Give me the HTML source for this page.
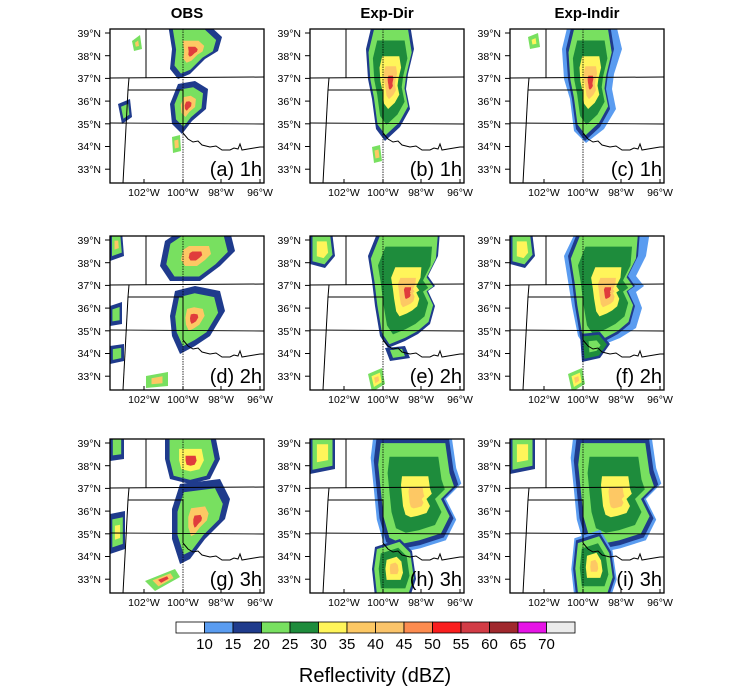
<!DOCTYPE html>
<html><head><meta charset="utf-8"><style>
body{margin:0;background:#fff}
svg{display:block;font-family:"Liberation Sans",sans-serif}
.lt{font-size:10.5px;text-anchor:end}
.ln{font-size:10.5px;text-anchor:middle}
.pl{font-size:20px;text-anchor:end}
.tt{font-size:15px;font-weight:bold;text-anchor:middle}
</style></head><body>
<svg id="s" width="750" height="695" viewBox="0 0 750 695">
<text class="tt" x="187" y="18">OBS</text>
<text class="tt" x="387" y="18">Exp-Dir</text>
<text class="tt" x="587" y="18">Exp-Indir</text>

<g transform="translate(110,29)"><g id="pa"></g><g class="fr"></g>
<text class="lt" x="-9" y="8">39°N</text><text class="lt" x="-9" y="31">38°N</text><text class="lt" x="-9" y="53">37°N</text><text class="lt" x="-9" y="76">36°N</text><text class="lt" x="-9" y="99">35°N</text><text class="lt" x="-9" y="121">34°N</text><text class="lt" x="-9" y="144">33°N</text>
<text class="ln" x="34" y="167">102°W</text><text class="ln" x="73" y="167">100°W</text><text class="ln" x="111" y="167">98°W</text><text class="ln" x="150" y="167">96°W</text>
<text class="pl" x="152" y="147">(a) 1h</text></g>

<g transform="translate(310,29)"><g id="pb"></g><g class="fr"></g>
<text class="lt" x="-9" y="8">39°N</text><text class="lt" x="-9" y="31">38°N</text><text class="lt" x="-9" y="53">37°N</text><text class="lt" x="-9" y="76">36°N</text><text class="lt" x="-9" y="99">35°N</text><text class="lt" x="-9" y="121">34°N</text><text class="lt" x="-9" y="144">33°N</text>
<text class="ln" x="34" y="167">102°W</text><text class="ln" x="73" y="167">100°W</text><text class="ln" x="111" y="167">98°W</text><text class="ln" x="150" y="167">96°W</text>
<text class="pl" x="152" y="147">(b) 1h</text></g>

<g transform="translate(510,29)"><g id="pc"></g><g class="fr"></g>
<text class="lt" x="-9" y="8">39°N</text><text class="lt" x="-9" y="31">38°N</text><text class="lt" x="-9" y="53">37°N</text><text class="lt" x="-9" y="76">36°N</text><text class="lt" x="-9" y="99">35°N</text><text class="lt" x="-9" y="121">34°N</text><text class="lt" x="-9" y="144">33°N</text>
<text class="ln" x="34" y="167">102°W</text><text class="ln" x="73" y="167">100°W</text><text class="ln" x="111" y="167">98°W</text><text class="ln" x="150" y="167">96°W</text>
<text class="pl" x="152" y="147">(c) 1h</text></g>

<g transform="translate(110,236)"><g id="pd"></g><g class="fr"></g>
<text class="lt" x="-9" y="8">39°N</text><text class="lt" x="-9" y="31">38°N</text><text class="lt" x="-9" y="53">37°N</text><text class="lt" x="-9" y="76">36°N</text><text class="lt" x="-9" y="99">35°N</text><text class="lt" x="-9" y="121">34°N</text><text class="lt" x="-9" y="144">33°N</text>
<text class="ln" x="34" y="167">102°W</text><text class="ln" x="73" y="167">100°W</text><text class="ln" x="111" y="167">98°W</text><text class="ln" x="150" y="167">96°W</text>
<text class="pl" x="152" y="147">(d) 2h</text></g>

<g transform="translate(310,236)"><g id="pe"></g><g class="fr"></g>
<text class="lt" x="-9" y="8">39°N</text><text class="lt" x="-9" y="31">38°N</text><text class="lt" x="-9" y="53">37°N</text><text class="lt" x="-9" y="76">36°N</text><text class="lt" x="-9" y="99">35°N</text><text class="lt" x="-9" y="121">34°N</text><text class="lt" x="-9" y="144">33°N</text>
<text class="ln" x="34" y="167">102°W</text><text class="ln" x="73" y="167">100°W</text><text class="ln" x="111" y="167">98°W</text><text class="ln" x="150" y="167">96°W</text>
<text class="pl" x="152" y="147">(e) 2h</text></g>

<g transform="translate(510,236)"><g id="pf"></g><g class="fr"></g>
<text class="lt" x="-9" y="8">39°N</text><text class="lt" x="-9" y="31">38°N</text><text class="lt" x="-9" y="53">37°N</text><text class="lt" x="-9" y="76">36°N</text><text class="lt" x="-9" y="99">35°N</text><text class="lt" x="-9" y="121">34°N</text><text class="lt" x="-9" y="144">33°N</text>
<text class="ln" x="34" y="167">102°W</text><text class="ln" x="73" y="167">100°W</text><text class="ln" x="111" y="167">98°W</text><text class="ln" x="150" y="167">96°W</text>
<text class="pl" x="152" y="147">(f) 2h</text></g>

<g transform="translate(110,439)"><g id="pg"></g><g class="fr"></g>
<text class="lt" x="-9" y="8">39°N</text><text class="lt" x="-9" y="31">38°N</text><text class="lt" x="-9" y="53">37°N</text><text class="lt" x="-9" y="76">36°N</text><text class="lt" x="-9" y="99">35°N</text><text class="lt" x="-9" y="121">34°N</text><text class="lt" x="-9" y="144">33°N</text>
<text class="ln" x="34" y="167">102°W</text><text class="ln" x="73" y="167">100°W</text><text class="ln" x="111" y="167">98°W</text><text class="ln" x="150" y="167">96°W</text>
<text class="pl" x="152" y="147">(g) 3h</text></g>

<g transform="translate(310,439)"><g id="ph"></g><g class="fr"></g>
<text class="lt" x="-9" y="8">39°N</text><text class="lt" x="-9" y="31">38°N</text><text class="lt" x="-9" y="53">37°N</text><text class="lt" x="-9" y="76">36°N</text><text class="lt" x="-9" y="99">35°N</text><text class="lt" x="-9" y="121">34°N</text><text class="lt" x="-9" y="144">33°N</text>
<text class="ln" x="34" y="167">102°W</text><text class="ln" x="73" y="167">100°W</text><text class="ln" x="111" y="167">98°W</text><text class="ln" x="150" y="167">96°W</text>
<text class="pl" x="152" y="147">(h) 3h</text></g>

<g transform="translate(510,439)"><g id="pi"></g><g class="fr"></g>
<text class="lt" x="-9" y="8">39°N</text><text class="lt" x="-9" y="31">38°N</text><text class="lt" x="-9" y="53">37°N</text><text class="lt" x="-9" y="76">36°N</text><text class="lt" x="-9" y="99">35°N</text><text class="lt" x="-9" y="121">34°N</text><text class="lt" x="-9" y="144">33°N</text>
<text class="ln" x="34" y="167">102°W</text><text class="ln" x="73" y="167">100°W</text><text class="ln" x="111" y="167">98°W</text><text class="ln" x="150" y="167">96°W</text>
<text class="pl" x="152" y="147">(i) 3h</text></g>

<g id="cb"></g>
<g style="font-size:15px" text-anchor="middle">
<text x="204.5" y="649">10</text><text x="233" y="649">15</text><text x="261.5" y="649">20</text><text x="290" y="649">25</text><text x="318.5" y="649">30</text><text x="347" y="649">35</text><text x="375.5" y="649">40</text><text x="404" y="649">45</text><text x="432.5" y="649">50</text><text x="461" y="649">55</text><text x="489.5" y="649">60</text><text x="518" y="649">65</text><text x="546.5" y="649">70</text>
</g>
<text x="375" y="682" text-anchor="middle" style="font-size:20px">Reflectivity (dBZ)</text>
</svg>
<script>
var NS="http://www.w3.org/2000/svg";
function el(p,t,a){var e=document.createElementNS(NS,t);for(var k in a)e.setAttribute(k,a[k]);p.appendChild(e);return e;}
var LB='#5a9cf0',DB='#1f3b8c',LG='#78e060',DG='#1e8c3c',YE='#fff55a',OR='#fdc864',OO='#fd8c50',RE='#e03c3c';
document.querySelectorAll('.fr').forEach(function(g){
 var st={fill:'none',stroke:'#000','stroke-width':1};
 el(g,'polyline',Object.assign({points:'0,49 154,48'},st));
 el(g,'polyline',Object.assign({points:'36,0 36,49'},st));
 el(g,'polyline',Object.assign({points:'19,49 18,61 73,61 73,104'},st));
 el(g,'polyline',Object.assign({points:'18,61 13,154'},st));
 el(g,'polyline',Object.assign({points:'0,94 154,95'},{fill:'none',stroke:'#000','stroke-width':0.9}));
 el(g,'line',{x1:73,y1:0,x2:73,y2:154,stroke:'#000','stroke-width':0.8,'stroke-dasharray':'1.5,1'});
 el(g,'polyline',Object.assign({points:'73,104 78,110 83,113 88,112 92,116 100,118 106,117 112,121 120,121 124,119 128,120 130,115 132,121 138,120 144,119 150,118 154,118'},st));
 el(g,'rect',{x:0,y:0,width:154,height:154,fill:'none',stroke:'#000','stroke-width':1.3});
 [4,26.7,49.4,72.1,94.8,117.5,140.2].forEach(function(y){el(g,'line',{x1:-5,y1:y,x2:0,y2:y,stroke:'#000'});});
 [34,73,111,150].forEach(function(x){el(g,'line',{x1:x,y1:150,x2:x,y2:154,stroke:'#000'});});
});
function blob(id,pts,cols,sc){
 var g=document.getElementById(id);
 var cx=0,cy=0;pts.forEach(function(p){cx+=p[0];cy+=p[1];});cx/=pts.length;cy/=pts.length;
 cols.forEach(function(c,i){
  var s=sc[i];
  var d=pts.map(function(p){return (cx+(p[0]-cx)*s).toFixed(1)+','+(cy+(p[1]-cy)*s).toFixed(1);}).join(' ');
  el(g,'polygon',{points:d,fill:c,'stroke-linejoin':'round'});
 });
}
function clip(id){var g=document.getElementById(id);var cp=el(g.parentNode,'clipPath',{id:'c'+id});el(cp,'rect',{x:0,y:0,width:154,height:154});g.setAttribute('clip-path','url(#c'+id+')');}
['pa','pb','pc','pd','pe','pf','pg','ph','pi'].forEach(clip);
blob('pa',[[58,-5],[98,-5],[112,8],[108,22],[95,30],[80,45],[68,50],[60,40],[62,20]],[DB,LG,OR,RE],[1,.8,.4,.18]);
blob('pa',[[68,55],[85,52],[98,60],[96,80],[82,92],[72,105],[62,95],[60,75]],[DB,LG,OR,RE],[1,.75,.4,.18]);
blob('pa',[[8,75],[20,70],[22,88],[12,95]],[DB,LG],[1,.6]);
blob('pa',[[22,12],[30,6],[32,20],[24,22]],[LG,OR],[1,.4]);
blob('pa',[[62,108],[70,106],[71,122],[63,124]],[LG,OR],[1,.5]);
var mb=[[62,-5],[100,-5],[104,20],[98,45],[96,60],[100,80],[90,98],[75,112],[66,100],[62,70],[58,50],[56,20]];
blob('pb',mb,[DB,LG,DG,YE,OR,RE],[1,.9,.72,.45,.28,.12]);
blob('pb',[[62,118],[70,116],[72,132],[64,134]],[LG,OR],[1,.5]);
blob('pc',[[58,-5],[106,-5],[112,20],[104,45],[102,60],[106,80],[94,100],[76,114],[64,102],[60,70],[54,50],[52,20]],[LB],[1]);
blob('pc',mb,[DB,LG,DG,YE,OR,RE],[1,.9,.72,.45,.28,.12]);
blob('pc',[[18,8],[28,4],[30,18],[20,20]],[LG,YE],[1,.4]);
blob('pd',[[55,5],[70,-5],[120,-5],[125,15],[110,30],[90,45],[60,45],[50,30]],[DB,LG,OR,RE],[1,.82,.4,.18]);
blob('pd',[[65,55],[85,50],[110,55],[115,75],[100,100],[85,110],[70,118],[62,100],[60,80]],[DB,LG,OR,RE],[1,.78,.35,.15]);
blob('pd',[[36,140],[58,136],[58,150],[36,152]],[LG,OR],[1,.5]);
blob('pd',[[0,70],[12,66],[12,88],[0,90]],[DB,LG],[1,.6]);
blob('pd',[[0,-5],[12,-5],[14,20],[0,25]],[DB,LG,OR],[1,.7,.3]);
blob('pd',[[0,110],[14,108],[14,125],[0,128]],[DB,LG],[1,.6]);
var me=[[68,-5],[130,-5],[128,20],[118,40],[125,50],[118,55],[125,70],[120,88],[108,98],[95,105],[78,112],[70,100],[65,70],[62,45],[58,20]];
blob('pe',me,[DB,LG,DG,YE,OR,RE],[1,.93,.75,.42,.25,.1]);
blob('pe',[[58,138],[72,132],[75,148],[62,156]],[LG,YE,OR],[1,.6,.3]);
blob('pe',[[0,-5],[22,-5],[25,20],[15,32],[0,28]],[DB,LG,YE],[1,.8,.45]);
blob('pe',[[75,112],[95,110],[100,122],[80,125]],[DB,LG],[1,.6]);
blob('pf',[[66,-5],[140,-5],[136,20],[126,40],[134,50],[126,56],[132,72],[126,92],[110,102],[95,108],[78,115],[68,100],[62,70],[58,45],[54,20]],[LB],[1]);
blob('pf',me,[DB,LG,DG,YE,OR,RE],[1,.93,.75,.42,.25,.1]);
blob('pf',[[70,98],[90,96],[100,108],[90,122],[72,126]],[DB,DG,LG],[1,.8,.4]);
blob('pf',[[58,138],[72,132],[75,148],[62,156]],[LG,YE,OR],[1,.6,.3]);
blob('pf',[[0,-5],[22,-5],[25,20],[15,32],[0,28]],[DB,LG,YE],[1,.8,.45]);
blob('pg',[[55,-5],[105,-5],[110,20],[100,40],[80,45],[60,40],[55,20]],[DB,LG,YE,RE],[1,.82,.45,.2]);
blob('pg',[[70,45],[110,40],[120,60],[115,80],[95,100],[80,120],[70,125],[62,100],[62,70]],[DB,LG,OR,RE],[1,.78,.35,.15]);
blob('pg',[[35,142],[65,130],[70,138],[45,152]],[LG,OR,RE],[1,.6,.3]);
blob('pg',[[0,75],[15,72],[15,110],[0,115]],[DB,LG,YE],[1,.7,.35]);
blob('pg',[[0,-5],[14,-5],[14,20],[0,22]],[DB,LG],[1,.6]);
var mh=[[65,-5],[140,-5],[145,30],[150,45],[135,60],[145,80],[135,100],[110,108],[90,112],[75,105],[68,80],[65,50],[62,20]];
blob('ph',mh,[LB,DB,LG,DG,YE,OR],[1.03,.96,.86,.65,.35,.18]);
blob('ph',[[65,108],[90,100],[102,112],[106,140],[100,158],[65,158],[62,130]],[DB,LG,DG,YE,OR],[1,.9,.7,.4,.2]);
blob('ph',[[0,-5],[25,-5],[25,30],[0,35]],[DB,LG,YE],[1,.8,.45]);
blob('pi',mh,[LB,DB,LG,DG,YE,OR],[1.03,.96,.86,.65,.35,.18]);
blob('pi',[[65,100],[90,92],[102,112],[106,140],[100,158],[65,158],[62,130]],[LB,DB,LG,DG,YE,OR],[1.03,.95,.85,.65,.38,.18]);
blob('pi',[[0,-5],[25,-5],[25,30],[0,35]],[DB,LG,YE],[1,.8,.45]);
var cb=document.getElementById('cb');
['#ffffff',LB,DB,LG,DG,YE,'#fdc864','#fbc46a',OO,'#fa1e1e','#d23c46','#a0282d','#e614e6','#ebebeb'].forEach(function(c,i){
 el(cb,'rect',{x:176+28.5*i,y:622,width:28.5,height:11,fill:c,stroke:'#000','stroke-width':0.8});
});
</script>
</body></html>
